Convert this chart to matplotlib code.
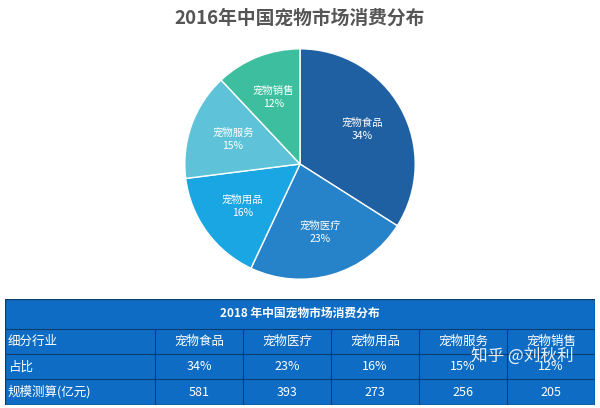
import numpy as np
import matplotlib.pyplot as plt

plt.rcParams['font.family'] = 'Noto Sans CJK SC'

categories = ['宠物食品', '宠物医疗', '宠物用品', '宠物服务', '宠物销售']
shares = [34, 23, 16, 15, 12]
scale = [581, 393, 273, 256, 205]
colors = ['#1f60a3', '#2683c9', '#1aa5e3', '#5ec3d9', '#3dbf9f']

fig = plt.figure(figsize=(6, 4.08), dpi=100)
fig.text(0.5, 0.955, '2016年中国宠物市场消费分布', ha='center', va='center',
         fontsize=13.5, fontweight='bold', color='#555555')

# pie
ax = fig.add_axes([0.26, 0.243, 0.48, 0.71])
wedges, _ = ax.pie(shares, colors=colors, startangle=90, counterclock=False,
                   wedgeprops=dict(edgecolor='white', linewidth=1))
ax.set_aspect('equal')
for w, c, s in zip(wedges, categories, shares):
    ang = np.deg2rad((w.theta1 + w.theta2) / 2)
    r = 0.62
    ax.text(r * np.cos(ang), r * np.sin(ang), f'{c}\n{s}%', ha='center',
            va='center', color='white', fontsize=7.5, linespacing=1.4)

# table
tax = fig.add_axes([0.008, 0.008, 0.984, 0.26])
tax.set_xlim(0, 590)
tax.set_ylim(0, 105)
tax.axis('off')
col_x = [0, 150, 238, 326, 414, 502, 590]
rows = [['细分行业'] + categories,
        ['占比'] + [f'{s}%' for s in shares],
        ['规模测算(亿元)'] + [str(v) for v in scale]]
tax.add_patch(plt.Rectangle((0, 0), 590, 105, facecolor='#0f6cc4',
                            edgecolor='#0a3d70', linewidth=1))
tax.plot([0, 590], [75, 75], color='#0a3d70', lw=0.8)
tax.text(295, 90, '2018 年中国宠物市场消费分布', ha='center', va='center',
         color='white', fontsize=8.5, fontweight='bold')
for i, row in enumerate(rows):
    ytop = 75 - i * 25
    tax.plot([0, 590], [ytop - 25, ytop - 25], color='#0a3d70', lw=0.8)
    for j, txt in enumerate(row):
        if j == 0:
            tax.text(3, ytop - 12.5, txt, ha='left', va='center',
                     color='white', fontsize=9)
        else:
            tax.text((col_x[j] + col_x[j + 1]) / 2, ytop - 12.5, txt,
                     ha='center', va='center', color='white', fontsize=9)
for x in col_x[1:-1]:
    tax.plot([x, x], [0, 75], color='#0a3d70', lw=0.8)

fig.text(0.785, 0.115, '知乎 @刘秋利', fontsize=12, color='white', alpha=0.9)

fig.savefig('out.png')
